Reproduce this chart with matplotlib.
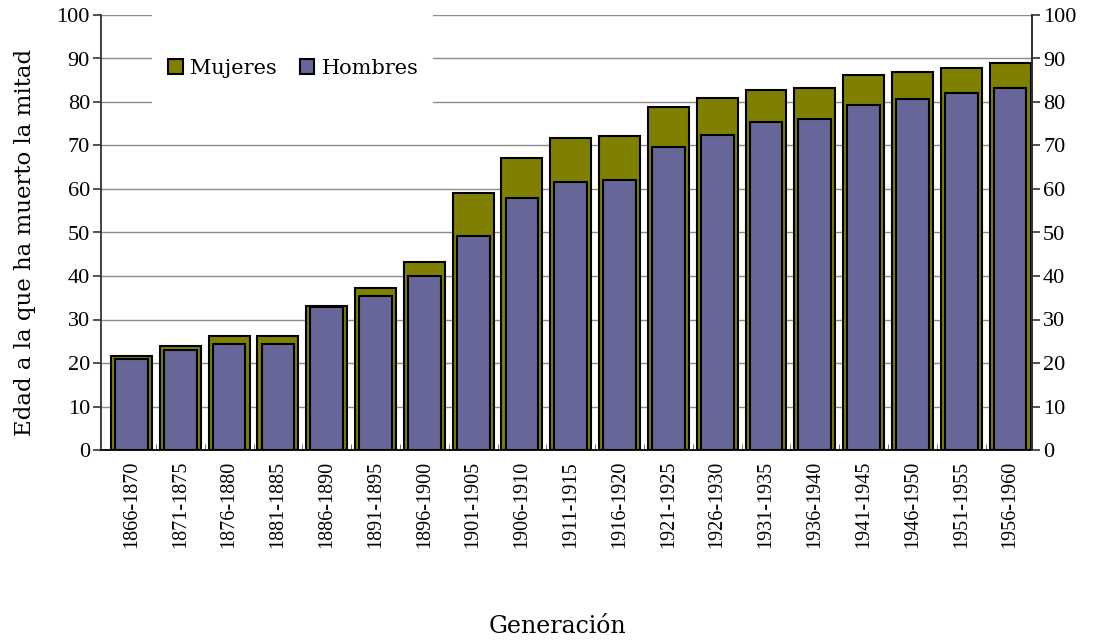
import matplotlib
matplotlib.use("Agg")
import matplotlib.pyplot as plt
from matplotlib.patches import Rectangle, Patch
import numpy as np

categories = ["1866-1870", "1871-1875", "1876-1880", "1881-1885", "1886-1890",
              "1891-1895", "1896-1900", "1901-1905", "1906-1910", "1911-1915",
              "1916-1920", "1921-1925", "1926-1930", "1931-1935", "1936-1940",
              "1941-1945", "1946-1950", "1951-1955", "1956-1960"]
mujeres = [21.6, 23.9, 26.3, 26.3, 33.2, 37.2, 43.2, 59.0, 67.2, 71.8,
           72.2, 78.8, 81.0, 82.8, 83.3, 86.1, 87.0, 87.9, 88.9]
hombres = [20.9, 23.0, 24.4, 24.4, 32.9, 35.5, 40.1, 49.3, 58.0, 61.7,
           62.1, 69.6, 72.3, 75.5, 76.0, 79.2, 80.6, 82.0, 83.3]
yticks = list(range(0, 101, 10))

SERIF = ["Liberation Serif", "DejaVu Serif"]
WIDE = ["DejaVu Serif", "Liberation Serif"]
plt.rcParams["font.family"] = SERIF

W, H = 1098, 640
fig = plt.figure(figsize=(W / 100, H / 100), dpi=100)
ax = fig.add_axes([101 / W, 1 - 450 / H, (1032 - 101) / W, (450 - 15) / H])

x = np.arange(len(categories))
OLIVE = "#808000"
PURPLE = "#666699"

ax.bar(x, mujeres, width=0.84, color=OLIVE, edgecolor="black", linewidth=1.5, zorder=3)
ax.bar(x, hombres, width=0.67, color=PURPLE, edgecolor="black", linewidth=1.5, zorder=4)

ax.set_xlim(-0.625, len(categories) - 1 + 0.45)
ax.set_ylim(0, 100)
ax.set_yticks(yticks)
ax.set_yticklabels([str(v) for v in yticks], fontsize=16)
ax.yaxis.grid(True, color="#8c8c8c", linewidth=1.0, zorder=0)
ax.set_axisbelow(True)

ax.set_xticks(x)
ax.set_xticklabels(categories, rotation=90, fontsize=14.5)
ax.tick_params(axis="x", which="major", length=0, pad=8)
ax.set_xticks(np.arange(0.5, len(categories) - 0.5, 1.0), minor=True)
ax.tick_params(axis="x", which="minor", direction="in", length=4, color="#555555")
ax.tick_params(axis="y", direction="out", length=6, width=1.2, pad=2, color="#333333")

ax.spines["top"].set_visible(False)
ax.spines["left"].set_color("#333333")
ax.spines["left"].set_linewidth(1.3)
ax.spines["right"].set_color("#333333")
ax.spines["right"].set_linewidth(1.3)
ax.spines["bottom"].set_color("black")
ax.spines["bottom"].set_linewidth(1.3)

ax2 = ax.twinx()
ax2.set_ylim(0, 100)
ax2.set_yticks(yticks)
ax2.set_yticklabels([str(v) for v in yticks], fontsize=16)
ax2.tick_params(axis="y", direction="out", length=6, width=1.2, pad=2, color="#333333")
for s in ["top", "left", "bottom"]:
    ax2.spines[s].set_visible(False)
ax2.spines["right"].set_color("#333333")
ax2.spines["right"].set_linewidth(1.3)

# white box behind legend that hides gridlines
x0 = (152 - 101) / 931
x1 = (433 - 101) / 931
y0 = (450 - 122) / 435
rect = Rectangle((x0, y0), x1 - x0, 1.01 - y0, transform=ax.transAxes,
                 facecolor="white", edgecolor="none", zorder=2, clip_on=False)
ax.add_patch(rect)

handles = [Patch(facecolor=OLIVE, edgecolor="black", linewidth=1.5, label="Mujeres"),
           Patch(facecolor=PURPLE, edgecolor="black", linewidth=1.5, label="Hombres")]
leg = ax.legend(handles=handles, loc="center left",
                bbox_to_anchor=((168 - 101) / 931, (450 - 68) / 435),
                ncol=2, frameon=False, prop={"family": WIDE, "size": 15},
                handlelength=0.7, handleheight=0.7, handletextpad=0.35,
                columnspacing=1.1, borderpad=0, borderaxespad=0)
leg.set_zorder(6)

ax.set_ylabel("Edad a la que ha muerto la mitad", fontsize=16.5, family=WIDE)
ax.yaxis.set_label_coords((36 - 101) / 931, (450 - 242) / 435)
ax.set_xlabel("Generación", fontsize=17, family=WIDE)
ax.xaxis.set_label_coords((557 - 101) / 931, (450 - 615) / 435)

fig.savefig("out.png", dpi=100)
